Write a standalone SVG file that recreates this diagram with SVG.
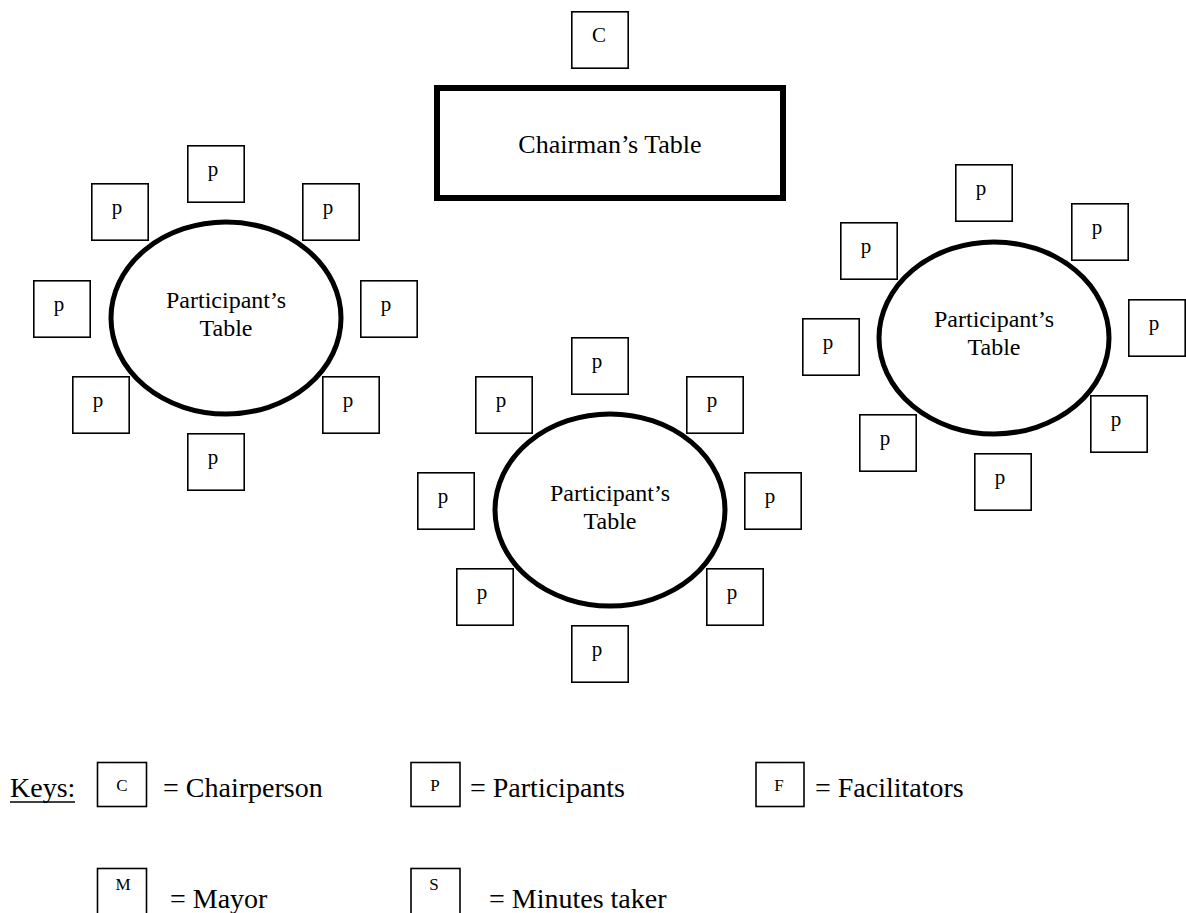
<svg xmlns="http://www.w3.org/2000/svg" width="1186" height="913" viewBox="0 0 1186 913">
<style>
.chair{fill:#fff;stroke:#000;stroke-width:1.6}
.tbl{fill:#fff;stroke:#000;stroke-width:5}
.ct{fill:#fff;stroke:#000;stroke-width:6}
.cl{font-family:"Liberation Serif","Times New Roman",serif;font-size:21px;text-anchor:middle;fill:#000}
.tl{font-family:"Liberation Serif","Times New Roman",serif;font-size:24px;text-anchor:middle;fill:#000}
.kt{font-family:"Liberation Serif","Times New Roman",serif;font-size:28px;fill:#000}
.kl{font-family:"Liberation Serif","Times New Roman",serif;font-size:17px;text-anchor:middle;fill:#000}
.kb{fill:#fff;stroke:#000;stroke-width:1.6}
</style>
<defs>
<g id="chair"><rect class="chair" x="0.8" y="0.8" width="56.4" height="56.4"/><text class="cl" x="26" y="31">p</text></g>
</defs>
<g id="connectors"></g>

<g id="chairperson">
<rect class="chair" x="571.8" y="11.8" width="56.4" height="56.4"/>
<text class="cl" x="599" y="42">C</text>
</g>
<g id="chairmans-table">
<rect class="ct" x="437" y="88" width="346" height="110"/>
<text class="tl" x="610" y="153" style="font-size:26px">Chairman’s Table</text>
</g>

<g id="left-table-group">
<use href="#chair" x="187" y="145"/>
<use href="#chair" x="91" y="183"/>
<use href="#chair" x="302" y="183"/>
<use href="#chair" x="33" y="280"/>
<use href="#chair" x="360" y="280"/>
<use href="#chair" x="72" y="376"/>
<use href="#chair" x="322" y="376"/>
<use href="#chair" x="187" y="433"/>
<g id="left-table">
<ellipse class="tbl" cx="226" cy="318" rx="115" ry="96"/>
<text class="tl" x="226" y="308">Participant’s</text>
<text class="tl" x="226" y="336">Table</text>
</g>
</g>

<g id="middle-table-group">
<use href="#chair" x="571" y="337"/>
<use href="#chair" x="475" y="376"/>
<use href="#chair" x="686" y="376"/>
<use href="#chair" x="417" y="472"/>
<use href="#chair" x="744" y="472"/>
<use href="#chair" x="456" y="568"/>
<use href="#chair" x="706" y="568"/>
<use href="#chair" x="571" y="625"/>
<g id="middle-table">
<ellipse class="tbl" cx="610" cy="510" rx="115" ry="96"/>
<text class="tl" x="610" y="501">Participant’s</text>
<text class="tl" x="610" y="529">Table</text>
</g>
</g>

<g id="right-table-group">
<use href="#chair" x="955" y="164"/>
<use href="#chair" x="1071" y="203"/>
<use href="#chair" x="840" y="222"/>
<use href="#chair" x="802" y="318"/>
<use href="#chair" x="1128" y="299"/>
<use href="#chair" x="859" y="414"/>
<use href="#chair" x="1090" y="395"/>
<use href="#chair" x="974" y="453"/>
<g id="right-table">
<ellipse class="tbl" cx="994" cy="338" rx="115" ry="96"/>
<text class="tl" x="994" y="327">Participant’s</text>
<text class="tl" x="994" y="355">Table</text>
</g>
</g>

<g id="keys">
<text class="kt" x="10" y="797">Keys:</text>
<line x1="10" y1="802" x2="75" y2="802" stroke="#000" stroke-width="1.5"/>
<g id="key-c">
<rect class="kb" x="97.5" y="762.5" width="49" height="44"/>
<text class="kl" x="122" y="791">C</text>
<text class="kt" x="163" y="797">= Chairperson</text>
</g>
<g id="key-p">
<rect class="kb" x="411" y="762.5" width="49" height="44"/>
<text class="kl" x="435" y="791">P</text>
<text class="kt" x="470" y="797">= Participants</text>
</g>
<g id="key-f">
<rect class="kb" x="756" y="762.5" width="48" height="44"/>
<text class="kl" x="779" y="791">F</text>
<text class="kt" x="815" y="797">= Facilitators</text>
</g>
<g id="key-m">
<rect class="kb" x="97.5" y="868.5" width="49" height="50"/>
<text class="kl" x="123" y="890">M</text>
<text class="kt" x="170" y="908">= Mayor</text>
</g>
<g id="key-s">
<rect class="kb" x="411" y="868.5" width="49" height="50"/>
<text class="kl" x="434" y="890">S</text>
<text class="kt" x="489" y="908">= Minutes taker</text>
</g>
</g>
</svg>
